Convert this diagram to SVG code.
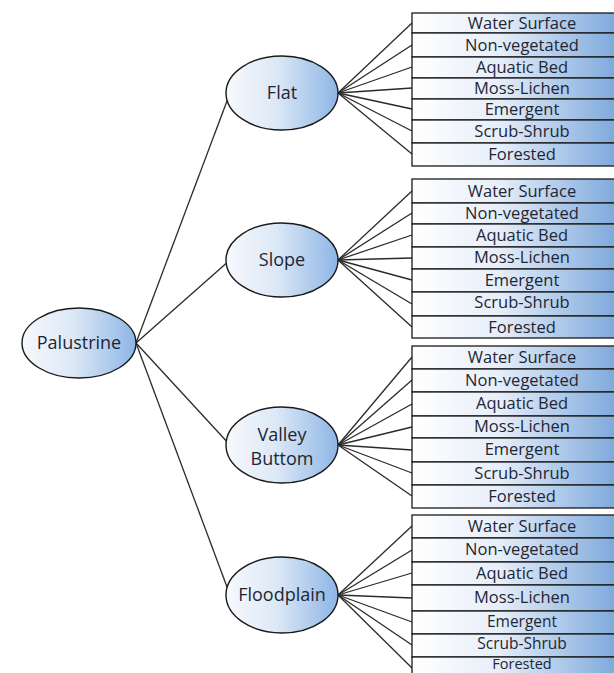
<svg xmlns="http://www.w3.org/2000/svg" width="614" height="673" viewBox="0 0 614 673">
<defs>
<linearGradient id="eg" x1="0" y1="0" x2="1" y2="0">
<stop offset="0" stop-color="#f7f9fd"/>
<stop offset="0.45" stop-color="#dce8f6"/>
<stop offset="1" stop-color="#8db5e6"/>
</linearGradient>
<linearGradient id="bg" gradientUnits="userSpaceOnUse" x1="412" y1="0" x2="632" y2="0">
<stop offset="0" stop-color="#ffffff"/>
<stop offset="0.4" stop-color="#e6eef9"/>
<stop offset="1" stop-color="#6f9fd8"/>
</linearGradient>
</defs>
<style>
.e{fill:url(#eg);stroke:#1a1a1a;stroke-width:1.4}
.b{fill:url(#bg);stroke:#1a1a1a;stroke-width:1.3}
.c line{stroke:#2a2a2a;stroke-width:1.3}
text{font-family:"Open Sans","Noto Sans","Liberation Sans",sans-serif;fill:#1e2633;text-anchor:middle}
.et{font-size:18px}
.bt{font-size:16.5px}
.sm{font-size:15.5px}
</style>
<rect width="614" height="673" fill="#ffffff"/>
<g id="connectors" class="c">
<line x1="136" y1="343" x2="230" y2="93"/>
<line x1="136" y1="343" x2="230" y2="260"/>
<line x1="136" y1="343" x2="230" y2="445"/>
<line x1="136" y1="343" x2="230" y2="595"/>
<line x1="338" y1="93" x2="412" y2="23"/>
<line x1="338" y1="93" x2="412" y2="45"/>
<line x1="338" y1="93" x2="412" y2="67"/>
<line x1="338" y1="93" x2="412" y2="88"/>
<line x1="338" y1="93" x2="412" y2="109"/>
<line x1="338" y1="93" x2="412" y2="131"/>
<line x1="338" y1="93" x2="412" y2="154"/>
<line x1="338" y1="260" x2="412" y2="191"/>
<line x1="338" y1="260" x2="412" y2="213"/>
<line x1="338" y1="260" x2="412" y2="235"/>
<line x1="338" y1="260" x2="412" y2="258"/>
<line x1="338" y1="260" x2="412" y2="280"/>
<line x1="338" y1="260" x2="412" y2="304"/>
<line x1="338" y1="260" x2="412" y2="327"/>
<line x1="338" y1="445" x2="412" y2="357"/>
<line x1="338" y1="445" x2="412" y2="380"/>
<line x1="338" y1="445" x2="412" y2="404"/>
<line x1="338" y1="445" x2="412" y2="427"/>
<line x1="338" y1="445" x2="412" y2="450"/>
<line x1="338" y1="445" x2="412" y2="473"/>
<line x1="338" y1="445" x2="412" y2="496"/>
<line x1="338" y1="595" x2="412" y2="526"/>
<line x1="338" y1="595" x2="412" y2="550"/>
<line x1="338" y1="595" x2="412" y2="573"/>
<line x1="338" y1="595" x2="412" y2="598"/>
<line x1="338" y1="595" x2="412" y2="622"/>
<line x1="338" y1="595" x2="412" y2="645"/>
<line x1="338" y1="595" x2="412" y2="668"/>
</g>
<g id="palustrine"><ellipse class="e" cx="79" cy="343" rx="57" ry="35"/><text class="et" x="79" y="349">Palustrine</text></g>
<g id="flat"><ellipse class="e" cx="282" cy="93" rx="56" ry="37"/><text class="et" x="282" y="99">Flat</text></g>
<g id="slope"><ellipse class="e" cx="282" cy="260" rx="56" ry="37"/><text class="et" x="282" y="266">Slope</text></g>
<g id="valley"><ellipse class="e" cx="282" cy="445" rx="56" ry="38"/><text class="et" x="282" y="441">Valley</text><text class="et" x="282" y="465">Buttom</text></g>
<g id="floodplain"><ellipse class="e" cx="282" cy="595" rx="56" ry="38"/><text class="et" x="282" y="601">Floodplain</text></g>
<g id="flat-classes">
<rect class="b" x="412" y="13" width="220" height="20"/><text class="bt" x="522" y="29">Water Surface</text>
<rect class="b" x="412" y="33" width="220" height="24"/><text class="bt" x="522" y="51">Non-vegetated</text>
<rect class="b" x="412" y="57" width="220" height="21"/><text class="bt" x="522" y="73">Aquatic Bed</text>
<rect class="b" x="412" y="78" width="220" height="21"/><text class="bt" x="522" y="94">Moss-Lichen</text>
<rect class="b" x="412" y="99" width="220" height="21"/><text class="bt" x="522" y="115">Emergent</text>
<rect class="b" x="412" y="120" width="220" height="23"/><text class="bt" x="522" y="137">Scrub-Shrub</text>
<rect class="b" x="412" y="143" width="220" height="23"/><text class="bt" x="522" y="160">Forested</text>
</g>
<g id="slope-classes">
<rect class="b" x="412" y="179" width="220" height="24"/><text class="bt" x="522" y="197">Water Surface</text>
<rect class="b" x="412" y="203" width="220" height="21"/><text class="bt" x="522" y="219">Non-vegetated</text>
<rect class="b" x="412" y="224" width="220" height="23"/><text class="bt" x="522" y="241">Aquatic Bed</text>
<rect class="b" x="412" y="247" width="220" height="22"/><text class="bt" x="522" y="263">Moss-Lichen</text>
<rect class="b" x="412" y="269" width="220" height="23"/><text class="bt" x="522" y="286">Emergent</text>
<rect class="b" x="412" y="292" width="220" height="24"/><text class="bt" x="522" y="308">Scrub-Shrub</text>
<rect class="b" x="412" y="316" width="220" height="22"/><text class="bt" x="522" y="333">Forested</text>
</g>
<g id="valley-classes">
<rect class="b" x="412" y="346" width="220" height="23"/><text class="bt" x="522" y="363">Water Surface</text>
<rect class="b" x="412" y="369" width="220" height="23"/><text class="bt" x="522" y="386">Non-vegetated</text>
<rect class="b" x="412" y="392" width="220" height="24"/><text class="bt" x="522" y="409">Aquatic Bed</text>
<rect class="b" x="412" y="416" width="220" height="22"/><text class="bt" x="522" y="432">Moss-Lichen</text>
<rect class="b" x="412" y="438" width="220" height="24"/><text class="bt" x="522" y="455">Emergent</text>
<rect class="b" x="412" y="462" width="220" height="23"/><text class="bt" x="522" y="479">Scrub-Shrub</text>
<rect class="b" x="412" y="485" width="220" height="23"/><text class="bt" x="522" y="502">Forested</text>
</g>
<g id="floodplain-classes">
<rect class="b" x="412" y="515" width="220" height="23"/><text class="bt" x="522" y="532">Water Surface</text>
<rect class="b" x="412" y="538" width="220" height="24"/><text class="bt" x="522" y="555">Non-vegetated</text>
<rect class="b" x="412" y="562" width="220" height="23"/><text class="bt" x="522" y="579">Aquatic Bed</text>
<rect class="b" x="412" y="585" width="220" height="26"/><text class="bt" x="522" y="603">Moss-Lichen</text>
<rect class="b" x="412" y="611" width="220" height="23"/><text class="sm" x="522" y="627">Emergent</text>
<rect class="b" x="412" y="634" width="220" height="23"/><text class="sm" x="522" y="648.5">Scrub-Shrub</text>
<rect class="b" x="412" y="657" width="220" height="23"/><text class="bt" x="522" y="668.5" style="font-size:14.5px">Forested</text>
</g>
</svg>
